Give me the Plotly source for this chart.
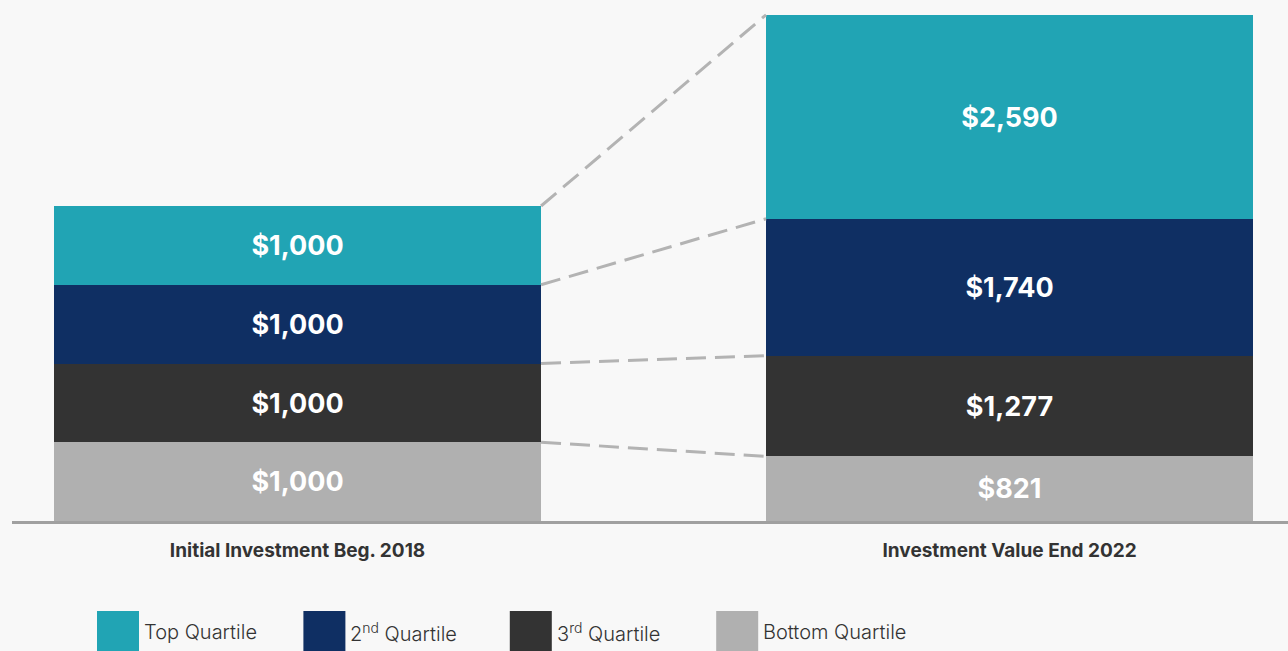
import numpy as np
import plotly.graph_objects as go

categories = ["Initial Investment Beg. 2018", "Investment Value End 2022"]
series_names = ["Bottom Quartile", "3rd Quartile", "2nd Quartile", "Top Quartile"]
legend_labels = ["Top Quartile", "2<sup>nd</sup> Quartile", "3<sup>rd</sup> Quartile", "Bottom Quartile"]
bottom_quartile = [1000, 821]
third_quartile = [1000, 1277]
second_quartile = [1000, 1740]
top_quartile = [1000, 2590]

colors = {
    "Top Quartile": "#21a4b4",
    "2nd Quartile": "#0f2f63",
    "3rd Quartile": "#333333",
    "Bottom Quartile": "#b0b0b0",
}

series = [bottom_quartile, third_quartile, second_quartile, top_quartile]
xpos = np.arange(len(categories))
bar_w = 0.684

fig = go.Figure()
for name, vals in zip(series_names, series):
    fig.add_trace(go.Bar(
        x=xpos, y=vals, name=name, width=bar_w,
        marker=dict(color=colors[name], line=dict(width=0)),
        texttemplate="$%{y:,}", textposition="inside", insidetextanchor="middle",
        textangle=0,
        textfont=dict(family="Inter, Roboto, sans-serif", size=27, color="white", weight="bold"),
        showlegend=False, hoverinfo="skip",
    ))

# dashed connectors between cumulative tops
cum = np.cumsum(np.array(series), axis=0)
for row in cum:
    fig.add_trace(go.Scatter(
        x=[xpos[0] + bar_w / 2, xpos[1] - bar_w / 2], y=list(row),
        mode="lines", line=dict(color="#b3b3b3", width=3, dash="20px,9px"),
        showlegend=False, hoverinfo="skip",
    ))

# custom legend (large square swatches)
W, L = 1276.0, 12.0
H = 521.0
legend_colors = [colors["Top Quartile"], colors["2nd Quartile"], colors["3rd Quartile"], colors["Bottom Quartile"]]
for i, (lab, col) in enumerate(zip(legend_labels, legend_colors)):
    x0 = 97 + i * 206.4
    fig.add_shape(type="rect", xref="paper", yref="paper",
                  x0=(x0 - L) / W, x1=(x0 + 42 - L) / W,
                  y0=(H - 651) / H, y1=(H - 611) / H,
                  fillcolor=col, line=dict(width=0), layer="above")
    fig.add_annotation(xref="paper", yref="paper",
                       x=(x0 + 45 - L) / W, y=(H - 632) / H,
                       xanchor="left", yanchor="middle", showarrow=False,
                       text=lab,
                       font=dict(family="Inter, Roboto, sans-serif", size=20, color="#333333", weight=300))

fig.update_layout(
    width=1288, height=651,
    margin=dict(l=12, r=0, t=0, b=130),
    paper_bgcolor="#f8f8f8", plot_bgcolor="#f8f8f8",
    barmode="stack", bargap=0,
    xaxis=dict(
        range=[-0.401, 1.391], tickvals=list(xpos), ticktext=categories,
        showgrid=False, zeroline=False, showline=True, linecolor="#a0a0a0", linewidth=3,
        ticks="", ticklabelstandoff=10, fixedrange=True,
        tickfont=dict(family="Inter, Roboto, sans-serif", size=19, color="#333333", weight="bold"),
    ),
    yaxis=dict(range=[0, 6616], visible=False, showgrid=False, zeroline=False, fixedrange=True),
)

fig.write_html("out.html")
